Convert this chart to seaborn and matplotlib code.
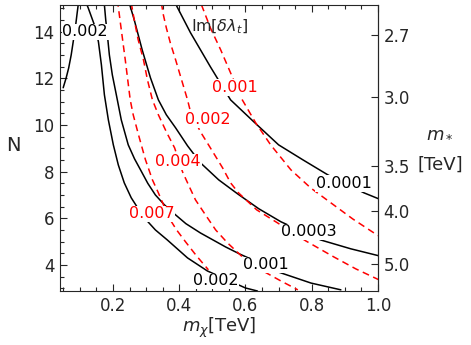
import matplotlib
matplotlib.use("Agg")
import matplotlib.pyplot as plt
import numpy as np
import seaborn as sns
from matplotlib.ticker import MultipleLocator, NullLocator, FixedLocator

sns.set_style("ticks")
plt.rcParams["font.family"] = ["DejaVu Sans"]
plt.rcParams["mathtext.fontset"] = "dejavusans"

# contour lines: m_chi [TeV] vs N
# black solid lines
blk_002a_x = [0.0496, 0.0587, 0.0662, 0.0738, 0.0798, 0.0874, 0.0919, 0.095, 0.098]
blk_002a_y = [11.60, 12.03, 12.45, 13.01, 13.57, 14.30, 14.82, 15.16, 15.37]
blk_002_x = [0.119, 0.125, 0.136, 0.146, 0.156, 0.165, 0.174, 0.186, 0.201, 0.216, 0.234,
             0.255, 0.292, 0.328, 0.364, 0.425, 0.485, 0.600, 0.636]
blk_002_y = [15.24, 15.03, 14.60, 14.21, 13.57, 12.58, 11.30, 10.22, 9.15, 8.29, 7.52,
             6.88, 6.06, 5.50, 5.07, 4.30, 3.74, 3.01, 2.88]
blk_001_x = [0.174, 0.178, 0.183, 0.189, 0.198, 0.210, 0.225, 0.246, 0.265, 0.283, 0.305,
             0.328, 0.355, 0.382, 0.420, 0.464, 0.540, 0.585, 0.661, 0.698, 0.798, 0.888]
blk_001_y = [15.16, 14.52, 13.87, 13.01, 12.15, 11.30, 10.22, 9.15, 8.55, 8.08, 7.50,
             7.00, 6.58, 6.23, 5.77, 5.37, 4.77, 4.45, 3.97, 3.70, 3.22, 2.93]
blk_0003_x = [0.249, 0.264, 0.288, 0.313, 0.337, 0.361, 0.389, 0.425, 0.464, 0.519, 0.576,
              0.640, 0.707, 0.767, 0.827, 0.918, 1.003]
blk_0003_y = [15.24, 14.52, 13.23, 12.03, 11.08, 10.44, 9.88, 9.11, 8.38, 7.65, 7.05,
              6.41, 5.85, 5.46, 5.07, 4.69, 4.39]
blk_0001_x = [0.389, 0.395, 0.434, 0.494, 0.555, 0.625, 0.700, 0.773, 0.849, 0.903, 0.958, 1.003]
blk_0001_y = [15.20, 15.03, 13.96, 12.50, 11.08, 10.14, 9.15, 8.51, 7.86, 7.48, 7.09, 6.83]

# red dashed lines
red_001_x = [0.467, 0.494, 0.525, 0.564, 0.585, 0.631, 0.676, 0.737, 0.797, 0.858, 0.924, 0.988, 1.003]
red_001_y = [15.16, 14.17, 13.23, 11.94, 11.21, 10.09, 9.15, 8.08, 7.30, 6.66, 5.97, 5.37, 5.24]
red_002_x = [0.346, 0.352, 0.361, 0.373, 0.389, 0.407, 0.425, 0.434, 0.449, 0.464, 0.494,
             0.531, 0.555, 0.579, 0.634, 0.697, 0.782, 0.867, 0.933, 1.003]
red_002_y = [15.24, 14.73, 14.17, 13.53, 12.80, 11.94, 11.08, 10.57, 10.14, 9.71, 9.02,
             8.16, 7.52, 7.09, 6.36, 5.80, 5.03, 4.34, 3.83, 3.36]
red_004_x = [0.255, 0.264, 0.276, 0.292, 0.304, 0.319, 0.337, 0.361, 0.386, 0.398, 0.410,
             0.428, 0.449, 0.479, 0.510, 0.546, 0.594, 0.646, 0.707, 0.758]
red_004_y = [15.24, 14.52, 13.66, 12.80, 11.94, 11.08, 10.44, 9.71, 9.02, 8.51, 7.99,
             7.43, 6.79, 6.15, 5.50, 4.94, 4.30, 3.79, 3.31, 2.93]
red_007_x = [0.213, 0.216, 0.225, 0.237, 0.252, 0.261, 0.277, 0.298, 0.319, 0.337, 0.355,
             0.373, 0.392, 0.419, 0.452, 0.488]
red_007_y = [15.37, 15.07, 14.09, 12.80, 11.08, 10.44, 9.58, 8.51, 7.65, 7.09, 6.49,
             5.93, 5.50, 4.99, 4.39, 3.79]

# contour labels (text, x, y)
blk_labels = [("0.002", 0.116, 14.0), ("0.002", 0.510, 3.31), ("0.001", 0.661, 4.0),
              ("0.0003", 0.790, 5.42), ("0.0001", 0.896, 7.48)]
red_labels = [("0.001", 0.569, 11.62), ("0.002", 0.487, 10.22), ("0.004", 0.396, 8.42),
              ("0.007", 0.316, 6.19)]

# right axis m_* [TeV]
mstar_ticks = [2.7, 3.0, 3.5, 4.0, 5.0]
c_mstar = 101.0  # N * m_*^2

fig, ax = plt.subplots(figsize=(4.71, 3.45), dpi=100)
fig.subplots_adjust(left=0.1274, right=0.8025, bottom=0.1565, top=0.9855)

for xs, ys in [(blk_002a_x, blk_002a_y), (blk_002_x, blk_002_y), (blk_001_x, blk_001_y),
               (blk_0003_x, blk_0003_y), (blk_0001_x, blk_0001_y)]:
    sns.lineplot(x=xs, y=ys, sort=False, estimator=None, color="black", lw=1.1, ax=ax)

for xs, ys in [(red_001_x, red_001_y), (red_002_x, red_002_y), (red_004_x, red_004_y),
               (red_007_x, red_007_y)]:
    l = sns.lineplot(x=xs, y=ys, sort=False, estimator=None, color="red", lw=1.1, ax=ax)
    l.lines[-1].set_dashes([4.5, 3])

box = dict(boxstyle="square,pad=0.05", fc="white", ec="none")
for s, x, y in blk_labels:
    ax.text(x, y, s, color="black", fontsize=11.5, ha="center", va="center", bbox=box, zorder=5)
for s, x, y in red_labels:
    ax.text(x, y, s, color="red", fontsize=11.5, ha="center", va="center", bbox=box, zorder=5)

ax.text(0.52, 14.21, r"Im[$\delta\lambda_t$]", fontsize=11.5, ha="center", va="center")

ax.set_xlim(0.04, 1.0)
ax.set_ylim(2.88, 15.15)
ax.xaxis.set_major_locator(MultipleLocator(0.2))
ax.xaxis.set_minor_locator(MultipleLocator(0.05))
ax.yaxis.set_major_locator(MultipleLocator(2))
ax.yaxis.set_minor_locator(MultipleLocator(0.5))
ax.set_xticks([0.2, 0.4, 0.6, 0.8, 1.0])
ax.set_xticklabels(["0.2", "0.4", "0.6", "0.8", "1.0"])
ax.set_yticks([4, 6, 8, 10, 12, 14])
ax.tick_params(which="both", direction="in", top=True, right=False, labelsize=12, width=0.8)
ax.tick_params(which="major", length=5, pad=4)
ax.tick_params(which="minor", length=3)
for sp in ax.spines.values():
    sp.set_linewidth(0.8)

ax.set_xlabel(r"$m_\chi$[TeV]", fontsize=13, labelpad=1)
ax.set_ylabel("N", fontsize=14, rotation=0, va="center", ha="center")
ax.yaxis.set_label_coords(-0.146, 0.51)


def n_to_m(n):
    return np.sqrt(c_mstar / np.clip(n, 1e-6, None))


def m_to_n(m):
    return c_mstar / np.clip(m, 1e-6, None) ** 2


sec = ax.secondary_yaxis("right", functions=(n_to_m, m_to_n))
sec.yaxis.set_major_locator(FixedLocator(mstar_ticks))
sec.yaxis.set_minor_locator(NullLocator())
sec.set_yticklabels([f"{t:.1f}" for t in mstar_ticks])
sec.tick_params(direction="in", length=5, width=0.8, labelsize=12, pad=4)
sec.spines["right"].set_linewidth(0.8)

ax.text(1.195, 0.556, r"$m_*$", transform=ax.transAxes, fontsize=13, ha="center", va="center")
ax.text(1.195, 0.44, "[TeV]", transform=ax.transAxes, fontsize=13, ha="center", va="center")

fig.savefig("out.png", dpi=100)
